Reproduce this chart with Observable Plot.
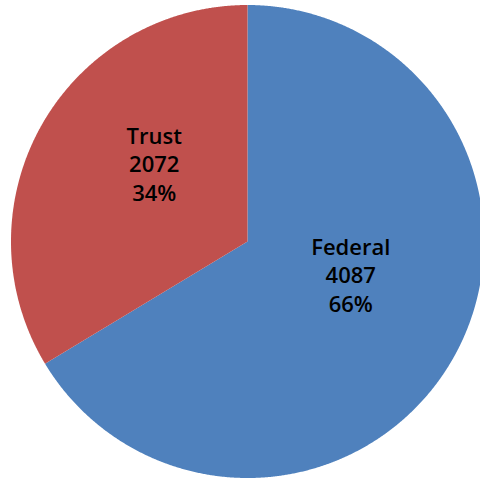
<!DOCTYPE html>
<html>
<head>
<meta charset="utf-8">
<script src="https://cdn.jsdelivr.net/npm/d3@7"></script>
<script src="https://cdn.jsdelivr.net/npm/@observablehq/plot@0.6"></script>
<style>
html, body { margin: 0; padding: 0; background: #fff; overflow: hidden; }
</style>
</head>
<body>
<div id="chart"></div>
<script>
const categories = ["Federal", "Trust"];
const values = [4087, 2072];
const colors = ["#4F81BD", "#C0504D"];

const total = d3.sum(values);
// angles measured clockwise from 12 o'clock, in radians
const pie = d3.pie().sort(null).value(d => d)(values);

const R = 1;
const slices = [];
pie.forEach((p, i) => {
  slices.push({cat: categories[i], x: 0, y: 0});
  const n = Math.max(2, Math.ceil((p.endAngle - p.startAngle) / (Math.PI / 720)));
  for (let k = 0; k <= n; k++) {
    const a = p.startAngle + (p.endAngle - p.startAngle) * k / n;
    slices.push({cat: categories[i], x: R * Math.sin(a), y: R * Math.cos(a)});
  }
  slices.push({cat: categories[i], x: 0, y: 0});
});

const labels = pie.map((p, i) => {
  const a = (p.startAngle + p.endAngle) / 2;
  const r = 0.477;
  return {
    cat: categories[i],
    x: r * Math.sin(a),
    y: r * Math.cos(a),
    text: `${categories[i]}\n${values[i]}\n${Math.round(values[i] / total * 100)}%`
  };
});

const W = 480, H = 479;
const cx = 247, cy = 241, rad = 236.5;

const chart = Plot.plot({
  width: W,
  height: H,
  margin: 0,
  style: {overflow: "hidden", background: "white"},
  x: {domain: [-cx / rad, (W - cx) / rad], range: [0, W], axis: null},
  y: {domain: [-(H - cy) / rad, cy / rad], range: [H, 0], axis: null},
  color: {domain: categories, range: colors},
  marks: [
    Plot.line(slices, {x: "x", y: "y", z: "cat", fill: "cat", stroke: null, curve: "linear"}),
    Plot.text(labels, {
      x: "x", y: "y", text: "text",
      dx: 5,
      dy: -23,
      fontSize: 22,
      fontWeight: 600,
      fontFamily: "'Open Sans', sans-serif",
      lineHeight: 1.3,
      fill: "#000"
    })
  ]
});
document.getElementById("chart").appendChild(chart);
</script>
</body>
</html>
